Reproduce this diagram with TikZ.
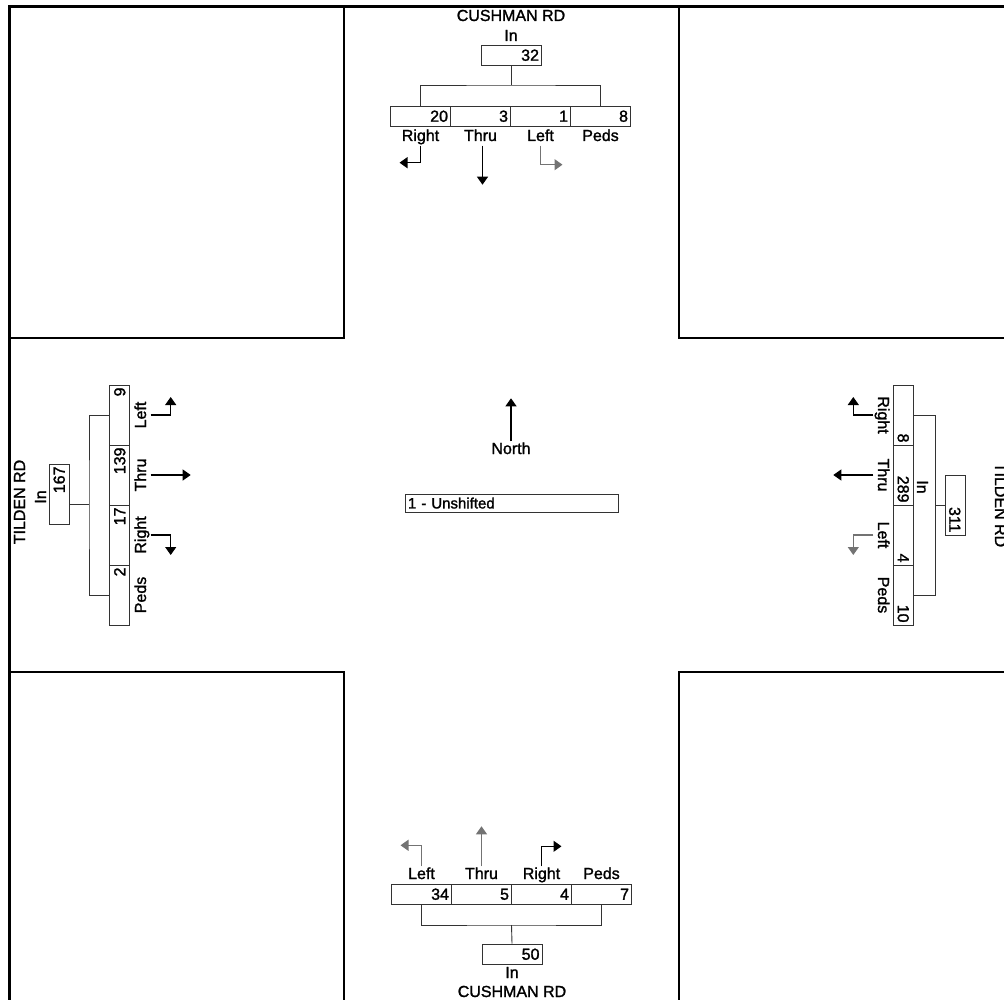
\documentclass[tikz,border=0pt]{standalone}
\usepackage{fontspec}
\setmainfont{Liberation Sans}[FakeBold=1.5]
\usetikzlibrary{arrows.meta}

\begin{document}
\begin{tikzpicture}[x=1pt, y=-1pt,
  every node/.style={font=\fontsize{16}{19}\selectfont},
  lbl/.style={inner sep=1pt, text height=11.5pt, text depth=3.5pt},
  cnt/.style={draw=black!80, line width=0.9pt, minimum width=60pt, minimum height=20pt,
    inner sep=0pt, text width=55pt, align=right, text height=11.5pt, text depth=0pt},
  arr/.style={line width=1.1pt, -{Triangle[width=11pt,length=8pt]}},
  garr/.style={arr, black!55},
  blk/.style={line width=2pt},
  brk/.style={line width=0.9pt, black!80}]

\useasboundingbox (0,0) rectangle (1004,1000);
\clip (0,0) rectangle (1004,1000);

% Rand und Blocks
\draw[line width=3pt] (9,1000) -- (9,7) -- (1004,7);
\draw[blk] (344,7) -- (344,338) -- (9,338);
\draw[blk] (679,7) -- (679,338) -- (1004,338);
\draw[blk] (9,672) -- (344,672) -- (344,1000);
\draw[blk] (1004,672) -- (679,672) -- (679,1000);

% Nord: CUSHMAN RD
\node[lbl] (nName) at (511,17) {CUSHMAN RD};
\node[lbl] (nIn) at (511,37) {In};
\node[cnt] (nTot) at (511.5,55) {32};
\node[cnt] (nR) at (420.5,116) {20};
\node[cnt] (nT) at (480.5,116) {3};
\node[cnt] (nL) at (540.5,116) {1};
\node[cnt] (nP) at (600.5,116) {8};
\node[lbl] (nRl) at (420.5,137) {Right};
\node[lbl] (nTl) at (480.5,137) {Thru};
\node[lbl] (nLl) at (540.5,137) {Left};
\node[lbl] (nPl) at (600.5,137) {Peds};
\coordinate (nBr) at (511.5,85);
\draw[brk] (nR.north) |- (nBr) -| (nP.north);
\draw[brk] (nTot.south) -- (nBr);
\draw[arr] (nRl.south) -- ++(0,17) -- ++(-21,0);
\draw[arr] ([xshift=2pt]nTl.south) -- ++(0,39);
\draw[garr] (nLl.south) -- ++(0,19) -- ++(22,0);

% West: TILDEN RD
\node[lbl, rotate=90, anchor=base] (wName) at (25,502) {TILDEN RD};
\node[lbl, rotate=90] (wIn) at (42,497) {In};
\node[cnt, rotate=90] (wTot) at (59,494) {167};
\node[cnt, rotate=90] (wL) at (119.5,415) {9};
\node[cnt, rotate=90] (wT) at (119.5,475) {139};
\node[cnt, rotate=90] (wR) at (119.5,535) {17};
\node[cnt, rotate=90] (wP) at (119.5,595) {2};
\node[lbl, rotate=90] (wLl) at (142,415) {Left};
\node[lbl, rotate=90] (wTl) at (142,475) {Thru};
\node[lbl, rotate=90] (wRl) at (142,535) {Right};
\node[lbl, rotate=90] (wPl) at (142,595) {Peds};
\coordinate (wBr) at (89,504);
\draw[brk] (wL.north) -| (wBr) |- (wP.north);
\draw[brk] (wTot.south |- wBr) -- (wBr);
\draw[arr] (wLl.south) -- ++(20,0) -- ++(0,-18);
\draw[arr] (wTl.south) -- ++(40,0);
\draw[arr] (wRl.south) -- ++(20,0) -- ++(0,20);

% Ost: TILDEN RD
\node[lbl, rotate=-90, anchor=base] (eName) at (995,505) {TILDEN RD};
\node[lbl, rotate=-90] (eIn) at (921,487) {In};
\node[cnt, rotate=-90] (eTot) at (955,505) {311};
\node[cnt, rotate=-90] (eR) at (903.5,415) {8};
\node[cnt, rotate=-90] (eT) at (903.5,475) {289};
\node[cnt, rotate=-90] (eL) at (903.5,535) {4};
\node[cnt, rotate=-90] (eP) at (903.5,595) {10};
\node[lbl, rotate=-90] (eRl) at (882,415) {Right};
\node[lbl, rotate=-90] (eTl) at (882,475) {Thru};
\node[lbl, rotate=-90] (eLl) at (882,535) {Left};
\node[lbl, rotate=-90] (ePl) at (882,595) {Peds};
\coordinate (eBr) at (935,505);
\draw[brk] (eR.north) -| (eBr) |- (eP.north);
\draw[brk] (eBr) -- (eTot.south);
\draw[arr] (eRl.south) -- ++(-20,0) -- ++(0,-18);
\draw[arr] (eTl.south) -- ++(-40,0);
\draw[garr] (eLl.south) -- ++(-20,0) -- ++(0,20);

% Sued: CUSHMAN RD
\node[cnt] (sL) at (421.5,894) {34};
\node[cnt] (sT) at (481.5,894) {5};
\node[cnt] (sR) at (541.5,894) {4};
\node[cnt] (sP) at (601.5,894) {7};
\node[lbl] (sLl) at (421.5,875) {Left};
\node[lbl] (sTl) at (481.5,875) {Thru};
\node[lbl] (sRl) at (541.5,875) {Right};
\node[lbl] (sPl) at (601.5,875) {Peds};
\node[cnt] (sTot) at (512,954) {50};
\node[lbl] (sIn) at (512,974) {In};
\node[lbl] (sName) at (512,993) {CUSHMAN RD};
\coordinate (sBr) at (511.5,925);
\draw[brk] (sL.south) |- (sBr) -| (sP.south);
\draw[brk] (sBr) -- (sTot.north);
\draw[garr] (sLl.north) -- ++(0,-21) -- ++(-21,0);
\draw[garr] (sTl.north) -- ++(0,-40);
\draw[arr] (sRl.north) -- ++(0,-20) -- ++(20,0);

% Mitte
\node[lbl] (north) at (511,450) {North};
\draw[arr] (north.north) -- ++(0,-43);
\node[draw=black!80, line width=0.9pt, minimum width=213pt, minimum height=18pt,
  inner sep=0pt, text width=207pt, align=left, text height=11pt,
  font=\fontsize{15}{18}\selectfont] (cls) at (511.5,503) {1 - Unshifted};

\end{tikzpicture}
\end{document}
